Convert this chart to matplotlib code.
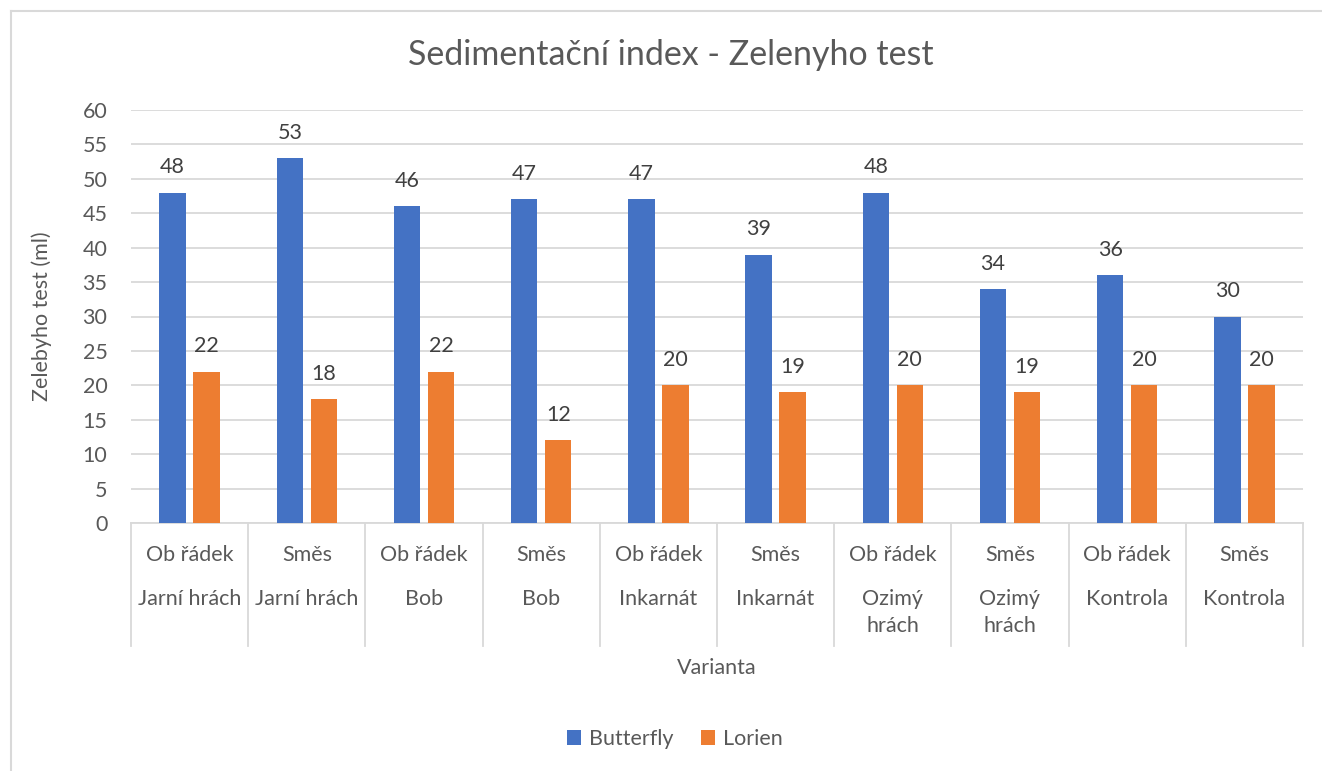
import numpy as np
import matplotlib.pyplot as plt
from matplotlib.lines import Line2D
import matplotlib.transforms as mtransforms

# data
level1 = ['Ob řádek', 'Směs', 'Ob řádek', 'Směs', 'Ob řádek', 'Směs',
          'Ob řádek', 'Směs', 'Ob řádek', 'Směs']
level2 = ['Jarní hrách', 'Jarní hrách', 'Bob', 'Bob', 'Inkarnát', 'Inkarnát',
          'Ozimý\nhrách', 'Ozimý\nhrách', 'Kontrola', 'Kontrola']
butterfly = [48, 53, 46, 47, 47, 39, 48, 34, 36, 30]
lorien = [22, 18, 22, 12, 20, 19, 20, 19, 20, 20]

blue = '#4472c4'
orange = '#ed7d31'
txt = '#595959'
grid = '#d9d9d9'
fs = 15.5

plt.rcParams['font.family'] = ['Lato', 'DejaVu Sans']

W, H = 1322, 771
fig = plt.figure(figsize=(W / 100, H / 100), dpi=100)
ax = fig.add_axes([131 / W, 1 - 523 / H, (1303 - 131) / W, (523 - 110) / H])

x = np.arange(len(butterfly))
bw = 0.225
b1 = ax.bar(x - 0.145, butterfly, bw, color=blue, zorder=3)
b2 = ax.bar(x + 0.145, lorien, bw, color=orange, zorder=3)
for bars in (b1, b2):
    for r in bars:
        ax.annotate(f'{r.get_height():.0f}', (r.get_x() + r.get_width() / 2, r.get_height()),
                    xytext=(0, 11), textcoords='offset points', ha='center', va='bottom',
                    fontsize=fs, color='#404040')

ax.set_xlim(-0.5, len(butterfly) - 0.5)
ax.set_ylim(0, 60)
ax.set_yticks(range(0, 61, 5))
ax.yaxis.grid(True, color=grid, linewidth=1.3, zorder=0)
ax.tick_params(axis='y', length=0, labelsize=fs, labelcolor=txt, pad=17)
ax.set_xticks([])
for s in ['top', 'right', 'left']:
    ax.spines[s].set_visible(False)
ax.spines['bottom'].set_color(grid)
ax.spines['bottom'].set_linewidth(1.3)

# multi-level category axis
trans = mtransforms.blended_transform_factory(ax.transData, ax.transAxes)
sep_bot = -123 / 413
for i in range(len(butterfly) + 1):
    ax.add_line(Line2D([i - 0.5, i - 0.5], [0, sep_bot], transform=trans,
                       color=grid, linewidth=1.3, clip_on=False))
for i in range(len(butterfly)):
    ax.text(i, -32 / 413, level1[i], transform=trans, ha='center', va='center',
            fontsize=fs, color=txt)
    ax.text(i, -66 / 413, level2[i], transform=trans, ha='center', va='top',
            fontsize=fs, color=txt, linespacing=1.45)

ax.set_ylabel('Zelebyho test (ml)', fontsize=fs, color=txt)
ax.yaxis.set_label_coords((52 - 131) / 1172, 0.5)
fig.text(717 / W, 1 - 668 / H, 'Varianta', ha='center', va='center', fontsize=fs, color=txt)
fig.text(671 / W, 1 - 55 / H, 'Sedimentační index - Zelenyho test', ha='center', va='center',
         fontsize=24.5, color=txt)

fig.legend(handles=[b1, b2], labels=['Butterfly', 'Lorien'], loc='center',
           bbox_to_anchor=(675 / W, 1 - 739 / H), ncol=2, frameon=False, fontsize=fs,
           labelcolor=txt, handlelength=0.65, handleheight=0.65, handletextpad=0.35,
           columnspacing=1.3)

# chart frame (only top and left visible)
fig.add_artist(Line2D([11 / W, 11 / W], [0, 1 - 11 / H], color=grid, linewidth=1.5))
fig.add_artist(Line2D([11 / W, 1], [1 - 11 / H, 1 - 11 / H], color=grid, linewidth=1.5))

fig.savefig('out.png', dpi=100, facecolor='white')
